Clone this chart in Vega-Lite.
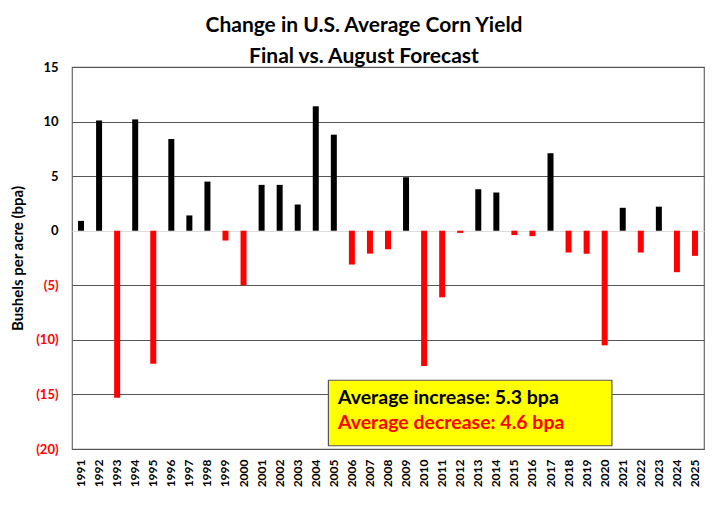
{
  "$schema": "https://vega.github.io/schema/vega-lite/v6.json",
  "width": 632,
  "height": 382,
  "autosize": {"type": "none"},
  "padding": {"left": 72, "top": 67, "right": 24, "bottom": 79},
  "background": "white",
  "config": {"font": "Lato", "view": {"stroke": "#666666", "strokeWidth": 1.2}},
  "title": {
    "text": ["Change in U.S. Average Corn Yield", "Final vs. August Forecast"],
    "fontSize": 21,
    "fontWeight": "bold",
    "font": "Lato",
    "color": "black",
    "anchor": "middle",
    "dx": -24,
    "offset": -6,
    "lineHeight": 31
  },
  "layer": [
    {
      "data": {
        "values": [
          {"year": 1991, "change": 0.9},
          {"year": 1992, "change": 10.1},
          {"year": 1993, "change": -15.3},
          {"year": 1994, "change": 10.2},
          {"year": 1995, "change": -12.2},
          {"year": 1996, "change": 8.4},
          {"year": 1997, "change": 1.4},
          {"year": 1998, "change": 4.5},
          {"year": 1999, "change": -0.9},
          {"year": 2000, "change": -5.0},
          {"year": 2001, "change": 4.2},
          {"year": 2002, "change": 4.2},
          {"year": 2003, "change": 2.4},
          {"year": 2004, "change": 11.4},
          {"year": 2005, "change": 8.8},
          {"year": 2006, "change": -3.1},
          {"year": 2007, "change": -2.1},
          {"year": 2008, "change": -1.7},
          {"year": 2009, "change": 4.9},
          {"year": 2010, "change": -12.4},
          {"year": 2011, "change": -6.1},
          {"year": 2012, "change": -0.2},
          {"year": 2013, "change": 3.8},
          {"year": 2014, "change": 3.5},
          {"year": 2015, "change": -0.4},
          {"year": 2016, "change": -0.5},
          {"year": 2017, "change": 7.1},
          {"year": 2018, "change": -2.0},
          {"year": 2019, "change": -2.1},
          {"year": 2020, "change": -10.5},
          {"year": 2021, "change": 2.1},
          {"year": 2022, "change": -2.0},
          {"year": 2023, "change": 2.2},
          {"year": 2024, "change": -3.8},
          {"year": 2025, "change": -2.3}
        ]
      },
      "mark": {"type": "bar", "size": 6},
      "encoding": {
        "x": {
          "field": "year",
          "type": "ordinal",
          "scale": {"paddingInner": 0, "paddingOuter": 0},
          "axis": {
            "title": null,
            "labelAngle": -90,
            "labelFontWeight": "bold",
            "labelFontSize": 12,
            "labelColor": "black",
            "ticks": false,
            "domain": false,
            "labelPadding": 10
          }
        },
        "y": {
          "field": "change",
          "type": "quantitative",
          "scale": {"domain": [-20, 15], "nice": false, "zero": false},
          "axis": {
            "title": "Bushels per acre (bpa)",
            "titleFontSize": 15,
            "titleFontWeight": "bold",
            "titleColor": "black",
            "titlePadding": 10,
            "values": [-20, -15, -10, -5, 0, 5, 10, 15],
            "ticks": false,
            "domain": false,
            "labelPadding": 14,
            "labelFontSize": 13,
            "labelFontWeight": "bold",
            "labelExpr": "datum.value < 0 ? '(' + abs(datum.value) + ')' : datum.label + '\u00a0'",
            "labelColor": {"condition": {"test": "datum.value < 0", "value": "#ff0000"}, "value": "black"},
            "grid": true,
            "gridColor": {"condition": {"test": "datum.value === 0", "value": "#dddddd"}, "value": "#555555"},
            "gridWidth": 1.2
          }
        },
        "color": {"condition": {"test": "datum.change >= 0", "value": "black"}, "value": "#ff0000"}
      }
    },
    {
      "data": {"values": [{"box": "averages"}]},
      "mark": {"type": "rect", "fill": "#ffff00", "stroke": "#555555", "strokeWidth": 1.2},
      "encoding": {
        "x": {"datum": 2005, "type": "ordinal", "bandPosition": 0.2},
        "x2": {"datum": 2020, "bandPosition": 0.9},
        "y": {"datum": -13.7, "type": "quantitative"},
        "y2": {"datum": -19.7}
      }
    },
    {
      "data": {"values": [{"label": "Average increase: 5.3 bpa"}]},
      "mark": {"type": "text", "align": "left", "baseline": "alphabetic", "fontSize": 19.5, "fontWeight": "bold", "color": "black"},
      "encoding": {
        "x": {"datum": 2005, "type": "ordinal", "bandPosition": 0.73},
        "y": {"datum": -15.9, "type": "quantitative"},
        "text": {"field": "label"}
      }
    },
    {
      "data": {"values": [{"label": "Average decrease: 4.6 bpa"}]},
      "mark": {"type": "text", "align": "left", "baseline": "alphabetic", "fontSize": 19.5, "fontWeight": "bold", "color": "#ff0000"},
      "encoding": {
        "x": {"datum": 2005, "type": "ordinal", "bandPosition": 0.73},
        "y": {"datum": -18.2, "type": "quantitative"},
        "text": {"field": "label"}
      }
    }
  ]
}
